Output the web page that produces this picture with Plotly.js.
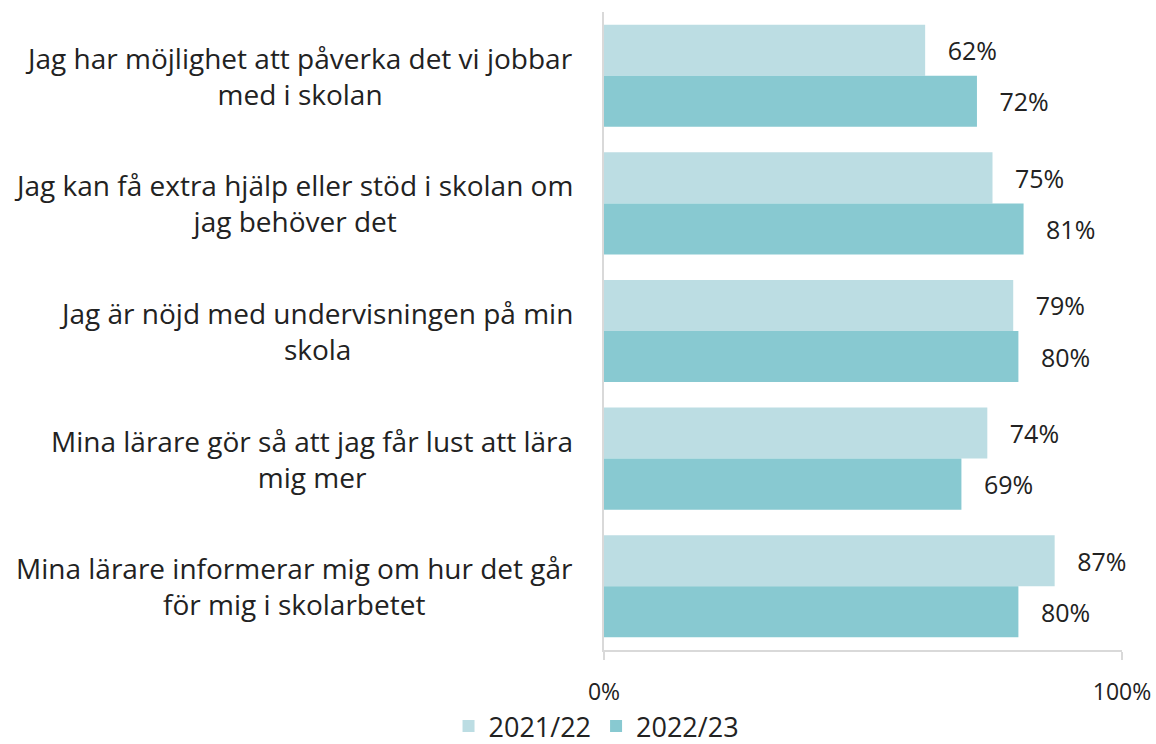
<!DOCTYPE html>
<html><head><meta charset="utf-8">
<script src="https://cdn.plot.ly/plotly-3.0.1.min.js"></script>
<style>body{margin:0;background:#fff}#chart{width:1156px;height:744px}</style>
</head><body><div id="chart"></div>
<script>
const categories = [
  "Jag har möjlighet att påverka det vi jobbar<br>med i skolan",
  "Jag kan få extra hjälp eller stöd i skolan om<br>jag behöver det",
  "Jag är nöjd med undervisningen på min<br>skola",
  "Mina lärare gör så att jag får lust att lära<br>mig mer",
  "Mina lärare informerar mig om hur det går<br>för mig i skolarbetet"
];
const series2122 = [62, 75, 79, 74, 87];
const series2223 = [72, 81, 80, 69, 80];
const seriesNames = ["2021/22", "2022/23"];
const xTickVals = [0, 100];
const xTickText = ["0%", "100%"];

const FONT = "Open Sans, sans-serif";
const colors = ["#bcdde3", "#88c9d1"];

const traces = [series2122, series2223].map((vals, i) => ({
  type: "bar", orientation: "h",
  y: categories, x: vals, name: seriesNames[i],
  marker: {color: colors[i]},
  text: vals.map(v => "\u00a0\u00a0\u00a0" + v + "%"),
  textposition: "outside",
  textfont: {family: FONT, size: 25, color: "#222"},
  cliponaxis: false,
  hoverinfo: "skip"
}));

const annotations = categories.map((c, i) => ({
  xref: "paper", yref: "y", x: -0.056, y: i,
  xanchor: "right", yanchor: "middle", align: "center",
  text: c, showarrow: false,
  font: {family: FONT, size: 28, color: "#222"}
}));

const layout = {
  width: 1156, height: 744,
  margin: {l: 604, r: 34, t: 12, b: 94, autoexpand: false},
  paper_bgcolor: "#fff", plot_bgcolor: "#fff",
  barmode: "group", bargap: 0.2, bargroupgap: 0,
  showlegend: true,
  legend: {orientation: "h", xref: "container", x: 0.388, xanchor: "left",
           yref: "paper", y: -0.12, yanchor: "middle",
           bgcolor: "rgba(0,0,0,0)",
           font: {family: FONT, size: 27, color: "#222"},
           traceorder: "normal"},
  xaxis: {range: [0, 100], tickvals: xTickVals, ticktext: xTickText,
          showgrid: false, zeroline: false, showline: true, linecolor: "#d9d9d9", linewidth: 2,
          ticks: "outside", ticklen: 8, tickcolor: "#d9d9d9", tickwidth: 2,
          ticklabelstandoff: 12,
          tickfont: {family: FONT, size: 23, color: "#222"}},
  yaxis: {type: "category", range: [4.5, -0.5], showticklabels: false, showgrid: false, zeroline: false,
          showline: true, linecolor: "#d9d9d9", linewidth: 2, ticks: ""},
  annotations: annotations
};

Plotly.newPlot("chart", traces, layout, {displayModeBar: false, staticPlot: true});
</script></body></html>
